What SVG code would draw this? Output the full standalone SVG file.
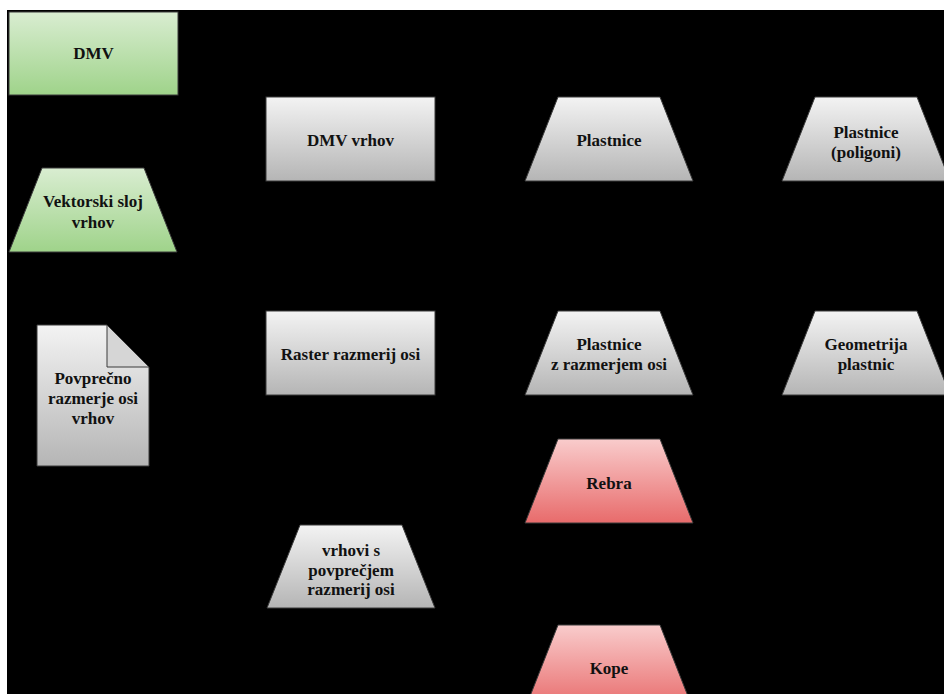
<svg xmlns="http://www.w3.org/2000/svg" width="944" height="694" viewBox="0 0 944 694">
<defs>
<linearGradient id="gGreen" x1="0" y1="0" x2="0" y2="1"><stop offset="0" stop-color="#d9edd1"/><stop offset="1" stop-color="#9fd38a"/></linearGradient>
<linearGradient id="gGray" x1="0" y1="0" x2="0" y2="1"><stop offset="0" stop-color="#f3f3f3"/><stop offset="1" stop-color="#b5b5b5"/></linearGradient>
<linearGradient id="gRed" x1="0" y1="0" x2="0" y2="1"><stop offset="0" stop-color="#f9cccc"/><stop offset="1" stop-color="#e86b6b"/></linearGradient>
</defs>
<style>
.s{stroke:#3a3a3a;stroke-width:1}
.green{fill:url(#gGreen)}
.gray{fill:url(#gGray)}
.red{fill:url(#gRed)}
text{font-family:"Liberation Serif","Times New Roman",serif;font-weight:bold;font-size:17px;fill:#111;text-anchor:middle}
</style>
<rect x="0" y="0" width="944" height="694" fill="#ffffff"/>
<rect x="7" y="10" width="937" height="684" fill="#000000"/>
<g id="connectors"></g>
<g id="n-dmv">
<rect class="s green" x="9" y="12" width="169" height="83"/>
<text x="93.5" y="59">DMV</text>
</g>
<g id="n-vektorski">
<polygon class="s green" points="42,168 144,168 177,252 9,252"/>
<text x="93" y="207">Vektorski sloj</text>
<text x="93" y="228">vrhov</text>
</g>
<g id="n-povprecno">
<path class="s gray" d="M37,325 H107 L149,367 V466 H37 Z"/>
<path class="s" fill="#d6d6d6" d="M107,325 V367 H149 Z"/>
<text x="93" y="384">Povprečno</text>
<text x="93" y="404">razmerje osi</text>
<text x="93" y="424">vrhov</text>
</g>
<g id="n-dmv-vrhov">
<rect class="s gray" x="266" y="97" width="169" height="84"/>
<text x="350.5" y="146">DMV vrhov</text>
</g>
<g id="n-plastnice">
<polygon class="s gray" points="558,97 660,97 693,181 525,181"/>
<text x="609" y="146">Plastnice</text>
</g>
<g id="n-plastnice-poligoni">
<polygon class="s gray" points="815,97 917,97 950,181 782,181"/>
<text x="866" y="138">Plastnice</text>
<text x="866" y="158">(poligoni)</text>
</g>
<g id="n-raster">
<rect class="s gray" x="266" y="311" width="169" height="84"/>
<text x="350.5" y="360">Raster razmerij osi</text>
</g>
<g id="n-plastnice-razmerje">
<polygon class="s gray" points="558,311 660,311 693,395 525,395"/>
<text x="609" y="350">Plastnice</text>
<text x="609" y="370">z razmerjem osi</text>
</g>
<g id="n-geometrija">
<polygon class="s gray" points="815,311 917,311 950,395 782,395"/>
<text x="866" y="350">Geometrija</text>
<text x="866" y="370">plastnic</text>
</g>
<g id="n-rebra">
<polygon class="s red" points="558,439 660,439 693,523 525,523"/>
<text x="609" y="489">Rebra</text>
</g>
<g id="n-vrhovi">
<polygon class="s gray" points="300,525 402,525 435,608 267,608"/>
<text x="351" y="556">vrhovi s</text>
<text x="351" y="576">povprečjem</text>
<text x="351" y="595">razmerij osi</text>
</g>
<g id="n-kope">
<polygon class="s red" points="558,625 660,625 693,709 525,709"/>
<text x="609" y="674">Kope</text>
</g>
</svg>
